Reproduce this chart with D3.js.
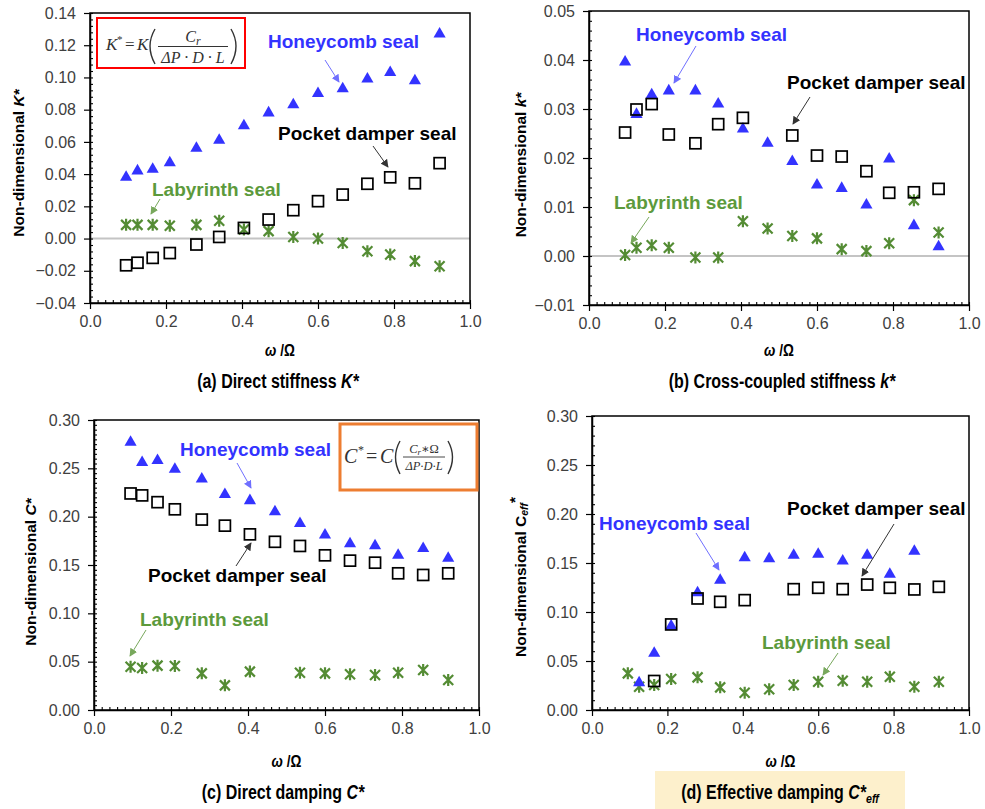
<!DOCTYPE html>
<html>
<head>
<meta charset="utf-8">
<script src="https://cdn.jsdelivr.net/npm/d3@7"></script>
<style>
  body { margin: 0; background: #fff; }
  svg { display: block; font-family: "Liberation Sans", Arial, sans-serif; }
</style>
</head>
<body>
<svg id="fig" width="985" height="809"></svg>
<script>
// Whirl frequency ratio ω/Ω shared by all test points
const omega = [0.095, 0.125, 0.165, 0.21, 0.28, 0.34, 0.405, 0.47, 0.535, 0.60, 0.665, 0.73, 0.79, 0.855, 0.92];
const xTicks = [0, 0.2, 0.4, 0.6, 0.8, 1.0];

// (a) Direct stiffness K*
const kTicks = [-0.04, -0.02, 0, 0.02, 0.04, 0.06, 0.08, 0.10, 0.12, 0.14];
const kHoneycomb = [0.038, 0.042, 0.043, 0.047, 0.056, 0.061, 0.070, 0.078, 0.083, 0.090, 0.093, 0.099, 0.103, 0.098, 0.127];
const kPocket = [-0.0166, -0.015, -0.012, -0.009, -0.0037, 0.001, 0.0066, 0.0118, 0.0176, 0.0232, 0.0273, 0.034, 0.038, 0.0343, 0.0468];
const kLabyrinth = [0.0085, 0.0085, 0.0085, 0.0079, 0.0085, 0.011, 0.0056, 0.0046, 0.001, 0.0, -0.0027, -0.0079, -0.0099, -0.014, -0.0172];

// (b) Cross-coupled stiffness k*
const kcTicks = [-0.01, 0, 0.01, 0.02, 0.03, 0.04, 0.05];
const kcHoneycomb = [0.0396, 0.0289, 0.0329, 0.0337, 0.0337, 0.031, 0.0259, 0.023, 0.0193, 0.0145, 0.0138, 0.0104, 0.0198, 0.0062, 0.0019];
const kcPocket = [0.0252, 0.0299, 0.031, 0.0248, 0.023, 0.0269, 0.0282, null, 0.0246, 0.0205, 0.0203, 0.0173, 0.0129, 0.013, 0.0137];
const kcLabyrinth = [0.0002, 0.0017, 0.0022, 0.0017, -0.0003, -0.0003, 0.0071, 0.0056, 0.0041, 0.0036, 0.0014, 0.001, 0.0026, 0.0114, 0.0048];

// (c) Direct damping C*
const cTicks = [0, 0.05, 0.10, 0.15, 0.20, 0.25, 0.30];
const cHoneycomb = [0.277, 0.256, 0.258, 0.249, 0.239, 0.223, 0.2166, 0.205, 0.193, 0.181, 0.172, 0.170, 0.160, 0.167, 0.157];
const cPocket = [0.224, 0.222, 0.215, 0.2076, 0.197, 0.1907, 0.1817, 0.174, 0.1697, 0.160, 0.1545, 0.1524, 0.1414, 0.1397, 0.1414];
const cLabyrinth = [0.0448, 0.0434, 0.0459, 0.0455, 0.0379, 0.0255, 0.0397, null, 0.0386, 0.0379, 0.0369, 0.0362, 0.0386, 0.0414, 0.031];

// (d) Effective damping C*eff
const ceTicks = [0, 0.05, 0.10, 0.15, 0.20, 0.25, 0.30];
const ceHoneycomb = [null, 0.0279, 0.0578, 0.0856, 0.1196, 0.1325, 0.1553, 0.1543, 0.158, 0.159, 0.152, 0.158, 0.1386, 0.162, null];
const cePocket = [null, null, 0.0296, 0.0873, 0.1138, 0.1104, 0.1121, null, 0.1233, 0.1247, 0.1233, 0.128, 0.1247, 0.123, 0.1257];
const ceLabyrinth = [0.0374, 0.0238, 0.0255, 0.0316, 0.0333, 0.0231, 0.0177, 0.0211, 0.0255, 0.0289, 0.0299, 0.0289, 0.034, 0.0238, 0.0289];

const BLUE = "#3333ff", GREEN = "#548c34", BLACK = "#000";
const ARROW = { hc: "#6f6fff", pd: "#333", lab: "#78a85c" };
const LABEL = { hc: BLUE, pd: "#000", lab: "#5c9a3c" };

const panels = [
  {
    box: { l: 90, r: 470, t: 13, b: 303 }, yDom: [-0.04, 0.14], yTicks: kTicks, yMinor: 0.004, zero: true,
    hc: kHoneycomb, pd: kPocket, lab: kLabyrinth,
    yLabel: [["Non-dimensional  ", false], ["K*", true]], yLabelPos: [18, 163],
    xLabelY: 356,
    caption: [["(a) Direct stiffness ", false], ["K*", true]], capPos: [278, 388],
    notes: [
      { k: "hc", text: "Honeycomb seal", x: 268, y: 48, a: [325, 60, 339, 82] },
      { k: "pd", text: "Pocket damper seal", x: 278, y: 140, a: [373, 146, 388, 167] },
      { k: "lab", text: "Labyrinth seal", x: 152, y: 196, a: [160, 199, 151, 214] }
    ]
  },
  {
    box: { l: 589, r: 969, t: 11, b: 305 }, yDom: [-0.01, 0.05], yTicks: kcTicks, yMinor: 0.002, zero: true,
    hc: kcHoneycomb, pd: kcPocket, lab: kcLabyrinth,
    yLabel: [["Non-dimensional  ", false], ["k*", true]], yLabelPos: [520, 165],
    xLabelY: 356,
    caption: [["(b) Cross-coupled stiffness ", false], ["k*", true]], capPos: [782, 388],
    notes: [
      { k: "hc", text: "Honeycomb seal", x: 636, y: 41, a: [696, 46, 674, 83] },
      { k: "pd", text: "Pocket damper seal", x: 787, y: 89, a: [810, 97, 793, 124] },
      { k: "lab", text: "Labyrinth seal", x: 614, y: 209, a: [649, 217, 631, 243] }
    ]
  },
  {
    box: { l: 94, r: 479, t: 420, b: 710 }, yDom: [0, 0.30], yTicks: cTicks, yMinor: 0.005, zero: false,
    hc: cHoneycomb, pd: cPocket, lab: cLabyrinth,
    yLabel: [["Non-dimensional  ", false], ["C*", true]], yLabelPos: [30, 572],
    xLabelY: 767,
    caption: [["(c) Direct damping ", false], ["C*", true]], capPos: [283, 799],
    notes: [
      { k: "hc", text: "Honeycomb seal", x: 180, y: 456, a: [237, 463, 251, 488] },
      { k: "pd", text: "Pocket damper seal", x: 148, y: 582, a: [236, 566, 251, 543] },
      { k: "lab", text: "Labyrinth seal", x: 140, y: 626, a: [146, 630, 130, 656] }
    ]
  },
  {
    box: { l: 592, r: 969, t: 416, b: 710 }, yDom: [0, 0.30], yTicks: ceTicks, yMinor: 0.01, zero: false,
    hc: ceHoneycomb, pd: cePocket, lab: ceLabyrinth,
    yLabel: null, yLabelPos: [520, 577],
    xLabelY: 767,
    caption: null, capPos: [780, 799],
    notes: [
      { k: "hc", text: "Honeycomb seal", x: 599, y: 530, a: [696, 533, 719, 570] },
      { k: "pd", text: "Pocket damper seal", x: 787, y: 515, a: [894, 524, 862, 576] },
      { k: "lab", text: "Labyrinth seal", x: 762, y: 649, a: [838, 653, 823, 675] }
    ]
  }
];

const svg = d3.select("#fig");
svg.append("rect").attr("width", 985).attr("height", 809).attr("fill", "#fff");
// highlight behind caption (d)
svg.append("rect").attr("x", 655).attr("y", 771).attr("width", 250).attr("height", 38).attr("fill", "#fdf0cc");

const defs = svg.append("defs");
Object.entries(ARROW).forEach(([k, c]) => {
  defs.append("marker").attr("id", "arr-" + k)
    .attr("viewBox", "0 0 10 10").attr("refX", 9).attr("refY", 5)
    .attr("markerWidth", 8).attr("markerHeight", 8).attr("markerUnits", "userSpaceOnUse")
    .attr("orient", "auto")
    .append("path").attr("d", "M0,0 L10,5 L0,10 Z").attr("fill", c);
});

const fmt = d3.format(".2f");
const triangle = d3.symbol(d3.symbolTriangle).size(64)();

function addRich(sel, parts) {
  parts.forEach(([t, it]) => sel.append("tspan").text(t).attr("font-style", it ? "italic" : null));
}

panels.forEach(p => {
  const { l, r, t, b } = p.box;
  const x = d3.scaleLinear().domain([0, 1]).range([l, r]);
  const y = d3.scaleLinear().domain(p.yDom).range([b, t]);
  const g = svg.append("g");

  if (p.zero) {
    g.append("line").attr("x1", l).attr("x2", r).attr("y1", y(0)).attr("y2", y(0))
      .attr("stroke", "#c4c4c4").attr("stroke-width", 2);
  }

  // minor ticks pointing into the plot
  const yMin = d3.range(p.yDom[0], p.yDom[1] + 1e-9, p.yMinor);
  const xMin = d3.range(0, 1 + 1e-9, 0.02);
  g.append("g").attr("transform", `translate(${l},0)`)
    .call(d3.axisRight(y).tickValues(yMin).tickSize(3).tickFormat(""))
    .call(s => s.select(".domain").remove());
  g.append("g").attr("transform", `translate(0,${b})`)
    .call(d3.axisTop(x).tickValues(xMin).tickSize(3).tickFormat(""))
    .call(s => s.select(".domain").remove());

  // major axes
  const ya = g.append("g").attr("transform", `translate(${l},0)`)
    .call(d3.axisLeft(y).tickValues(p.yTicks).tickSize(6).tickSizeOuter(0).tickPadding(8).tickFormat(fmt));
  const xa = g.append("g").attr("transform", `translate(0,${b})`)
    .call(d3.axisBottom(x).tickValues(xTicks).tickSize(6).tickSizeOuter(0).tickPadding(7).tickFormat(d3.format(".1f")));
  [ya, xa].forEach(a => {
    a.selectAll("text").attr("font-size", 16).attr("fill", "#404040").attr("font-family", "Liberation Sans, Arial, sans-serif");
    a.selectAll("line").attr("stroke", "#000").attr("stroke-width", 1.2);
    a.select(".domain").attr("stroke", "#000").attr("stroke-width", 1.5);
  });
  g.selectAll("line").filter(function () { return !this.getAttribute("stroke-width"); })
    .attr("stroke-width", 1.1);

  // frame
  g.append("rect").attr("x", l).attr("y", t).attr("width", r - l).attr("height", b - t)
    .attr("fill", "none").attr("stroke", "#000").attr("stroke-width", 1.5);

  const pts = arr => omega.map((w, i) => ({ w, v: arr[i] })).filter(d => d.v !== null);

  // labyrinth seal: asterisk marks
  g.append("g").selectAll("path").data(pts(p.lab)).join("path")
    .attr("transform", d => `translate(${x(d.w)},${y(d.v)})`)
    .attr("d", "M-5,-5L5,5M-5,5L5,-5M0,-6L0,6")
    .attr("stroke", GREEN).attr("stroke-width", 2.2).attr("fill", "none");

  // honeycomb seal: filled triangles
  g.append("g").selectAll("path").data(pts(p.hc)).join("path")
    .attr("transform", d => `translate(${x(d.w)},${y(d.v)})`)
    .attr("d", triangle).attr("fill", BLUE);

  // pocket damper seal: open squares
  g.append("g").selectAll("rect").data(pts(p.pd)).join("rect")
    .attr("x", d => x(d.w) - 5.5).attr("y", d => y(d.v) - 5.5)
    .attr("width", 11).attr("height", 11)
    .attr("fill", "none").attr("stroke", BLACK).attr("stroke-width", 1.7);

  // series annotations
  p.notes.forEach(n => {
    g.append("line").attr("x1", n.a[0]).attr("y1", n.a[1]).attr("x2", n.a[2]).attr("y2", n.a[3])
      .attr("stroke", ARROW[n.k]).attr("stroke-width", 1).attr("marker-end", `url(#arr-${n.k})`);
    g.append("text").attr("x", n.x).attr("y", n.y).text(n.text)
      .attr("font-size", 19).attr("font-weight", "bold").attr("fill", LABEL[n.k]);
  });

  // axis titles
  const yl = svg.append("text")
    .attr("transform", `translate(${p.yLabelPos[0]},${p.yLabelPos[1]}) rotate(-90)`)
    .attr("text-anchor", "middle").attr("dominant-baseline", "central")
    .attr("font-size", 15.5).attr("font-weight", "bold").attr("fill", "#000");
  if (p.yLabel) addRich(yl, p.yLabel);
  else {
    yl.append("tspan").text("Non-dimensional  C");
    yl.append("tspan").text("eff").attr("font-style", "italic").attr("font-size", 10.5).attr("dy", 4);
    yl.append("tspan").text("*").attr("dy", -10);
  }

  const xl = svg.append("g").attr("transform", `translate(${(l + r) / 2},${p.xLabelY}) scale(0.85,1)`)
    .append("text").attr("text-anchor", "middle").attr("font-size", 16).attr("font-weight", "bold").attr("fill", "#000");
  xl.append("tspan").text("ω").attr("font-style", "italic");
  xl.append("tspan").text(" /Ω");

  // panel caption in a condensed bold face
  const cap = svg.append("g").attr("transform", `translate(${p.capPos[0]},${p.capPos[1]}) scale(0.82,1)`)
    .append("text").attr("text-anchor", "middle").attr("font-size", 19.5).attr("font-weight", "bold").attr("fill", "#000");
  if (p.caption) addRich(cap, p.caption);
  else {
    cap.append("tspan").text("(d) Effective damping ");
    cap.append("tspan").text("C*").attr("font-style", "italic");
    cap.append("tspan").text("eff").attr("font-style", "italic").attr("font-size", 13).attr("dy", 4);
  }
});

const serif = "'Liberation Serif', 'DejaVu Serif', serif";

// Non-dimensional stiffness definition
svg.append("rect").attr("x", 97).attr("y", 18).attr("width", 148).attr("height", 50)
  .attr("fill", "#fff").attr("stroke", "#ff0000").attr("stroke-width", 2);
const fa = svg.append("g").attr("font-family", serif).attr("fill", "#333").attr("font-style", "italic");
fa.append("text").attr("x", 106).attr("y", 50).attr("font-size", 17).text("K");
fa.append("text").attr("x", 117).attr("y", 43).attr("font-size", 11).attr("font-style", "normal").text("*");
fa.append("text").attr("x", 125).attr("y", 50).attr("font-size", 17).attr("font-style", "normal").text("=");
fa.append("text").attr("x", 137).attr("y", 50).attr("font-size", 17).text("K");
fa.append("path").attr("d", "M155,29 Q145,46 155,64").attr("fill", "none").attr("stroke", "#333").attr("stroke-width", 1.4);
fa.append("path").attr("d", "M231,29 Q241,46 231,64").attr("fill", "none").attr("stroke", "#333").attr("stroke-width", 1.4);
const num = fa.append("text").attr("x", 193).attr("y", 42).attr("font-size", 16).attr("text-anchor", "middle");
num.append("tspan").text("C");
num.append("tspan").text("r").attr("font-size", 12).attr("dy", 3);
fa.append("line").attr("x1", 158).attr("x2", 228).attr("y1", 46.5).attr("y2", 46.5).attr("stroke", "#333").attr("stroke-width", 1);
fa.append("text").attr("x", 193).attr("y", 63).attr("font-size", 16).attr("text-anchor", "middle").text("ΔP · D · L");

// Non-dimensional damping definition
svg.append("rect").attr("x", 340).attr("y", 424).attr("width", 137).attr("height", 66)
  .attr("fill", "#fff").attr("stroke", "#ed7d31").attr("stroke-width", 3);
const fc = svg.append("g").attr("font-family", serif).attr("fill", "#333").attr("font-style", "italic");
fc.append("text").attr("x", 344).attr("y", 463).attr("font-size", 20).text("C");
fc.append("text").attr("x", 358).attr("y", 454).attr("font-size", 12).attr("font-style", "normal").text("*");
fc.append("text").attr("x", 366).attr("y", 463).attr("font-size", 20).attr("font-style", "normal").text("=");
fc.append("text").attr("x", 380).attr("y", 463).attr("font-size", 20).text("C");
fc.append("path").attr("d", "M400,441 Q391,457 400,474").attr("fill", "none").attr("stroke", "#333").attr("stroke-width", 1.4);
fc.append("path").attr("d", "M448,441 Q457,457 448,474").attr("fill", "none").attr("stroke", "#333").attr("stroke-width", 1.4);
const cn = fc.append("text").attr("x", 424).attr("y", 453).attr("font-size", 12.5).attr("text-anchor", "middle");
cn.append("tspan").text("C");
cn.append("tspan").text("r").attr("font-size", 9).attr("dy", 2);
cn.append("tspan").text("∗Ω").attr("font-style", "normal").attr("dy", -2);
fc.append("line").attr("x1", 403).attr("x2", 445).attr("y1", 457).attr("y2", 457).attr("stroke", "#333").attr("stroke-width", 0.9);
fc.append("text").attr("x", 424).attr("y", 470).attr("font-size", 12.5).attr("text-anchor", "middle").text("ΔP·D·L");
</script>
</body>
</html>
